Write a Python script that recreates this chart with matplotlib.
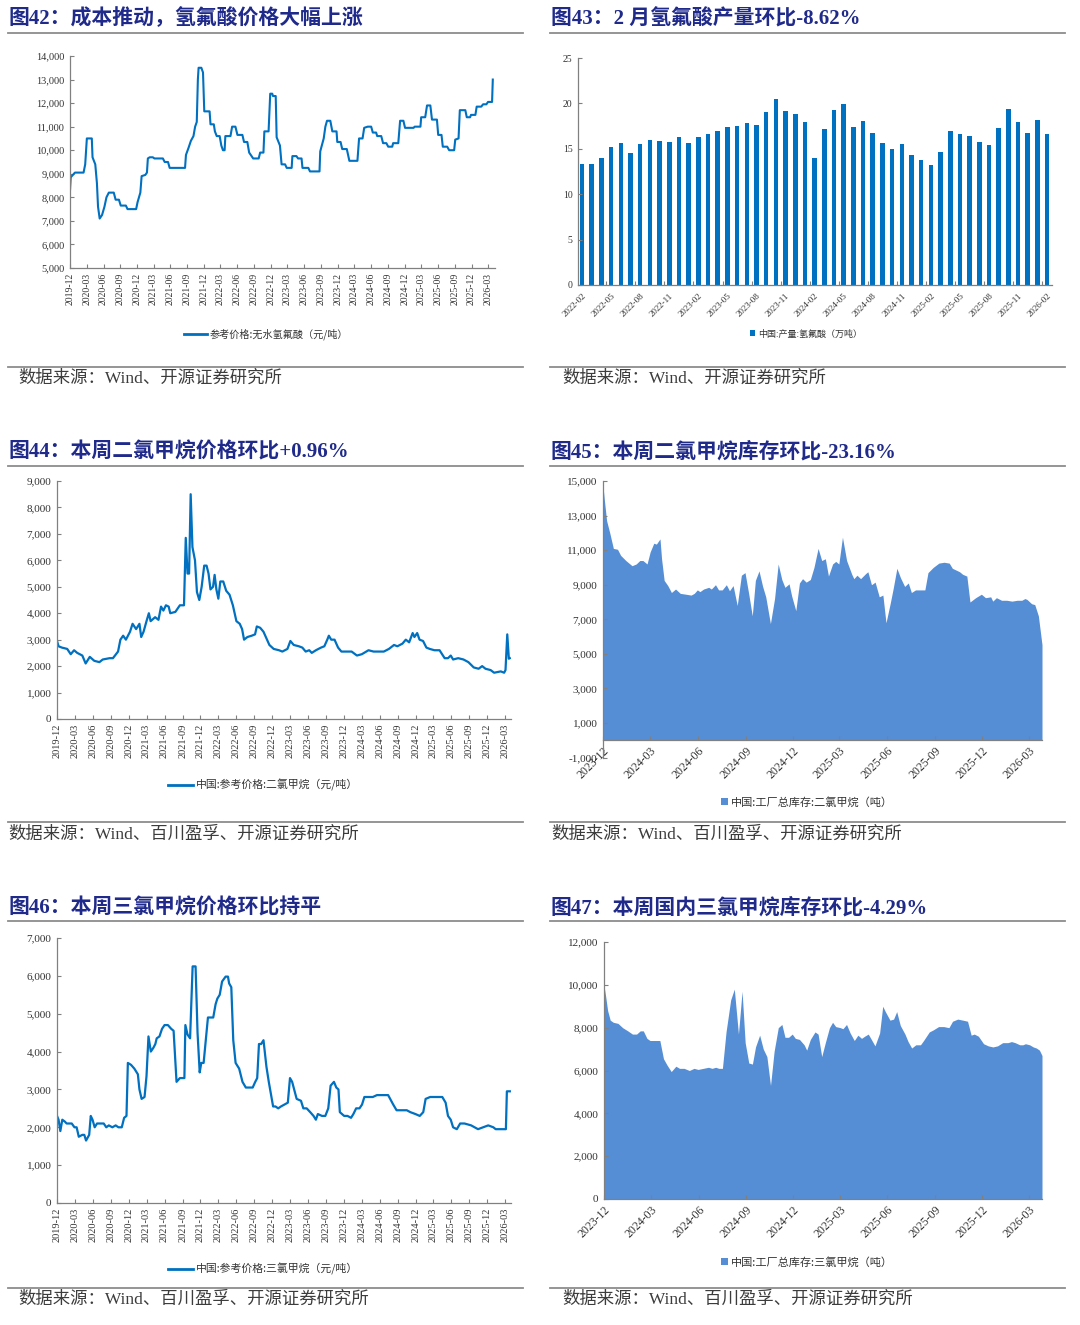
import matplotlib
matplotlib.use('Agg')
import matplotlib.pyplot as plt
import pandas as pd
import numpy as np
from matplotlib.lines import Line2D
from matplotlib.patches import Patch
from matplotlib.ticker import FuncFormatter

# ---------------- DATA ----------------
# 图42 参考价格:无水氢氟酸（元/吨）
p42_dates = ["2019-12-01","2019-12-05","2019-12-28","2020-02-13","2020-02-22","2020-03-02","2020-03-29","2020-04-02","2020-04-17","2020-04-26",
 "2020-05-02","2020-05-11","2020-05-24","2020-06-06","2020-06-17","2020-06-30","2020-07-27","2020-08-06","2020-08-24","2020-09-03",
 "2020-10-01","2020-10-10","2020-11-26","2020-12-04","2020-12-19","2020-12-26","2021-01-15","2021-01-24","2021-01-29","2021-02-08",
 "2021-02-25","2021-03-06","2021-04-21","2021-05-01","2021-05-19","2021-05-28","2021-08-20","2021-08-25","2021-09-08","2021-09-21",
 "2021-10-05","2021-10-14","2021-10-23","2021-10-29","2021-11-02","2021-11-17","2021-11-26","2021-12-03","2022-01-01","2022-01-06",
 "2022-01-24","2022-01-30","2022-02-09","2022-02-25","2022-03-06","2022-03-15","2022-03-24","2022-03-28","2022-04-25","2022-05-04",
 "2022-05-22","2022-06-02","2022-06-29","2022-07-08","2022-07-26","2022-08-05","2022-08-27","2022-09-26","2022-10-04","2022-10-22",
 "2022-10-27","2022-11-19","2022-11-28","2022-12-09","2022-12-13","2022-12-28","2023-01-02","2023-01-20","2023-01-29","2023-02-17",
 "2023-02-26","2023-03-25","2023-03-29","2023-04-20","2023-04-29","2023-05-18","2023-05-23","2023-06-24","2023-07-03","2023-08-24",
 "2023-08-28","2023-09-16","2023-09-25","2023-10-04","2023-10-22","2023-11-02","2023-11-25","2023-11-29","2023-12-17","2023-12-26",
 "2024-01-20","2024-02-03","2024-03-18","2024-03-27","2024-04-15","2024-04-24","2024-05-13","2024-06-01","2024-06-10","2024-06-28",
 "2024-07-04","2024-07-26","2024-08-05","2024-08-23","2024-09-02","2024-09-24","2024-09-29","2024-10-27","2024-11-06","2024-11-24",
 "2024-12-03","2025-01-19","2025-01-24","2025-02-25","2025-03-01","2025-03-23","2025-04-02","2025-04-20","2025-04-29","2025-05-26",
 "2025-06-02","2025-06-20","2025-06-27","2025-07-21","2025-08-01","2025-08-28","2025-09-03","2025-09-21","2025-09-28","2025-10-28",
 "2025-11-05","2025-11-23","2025-11-28","2025-12-22","2025-12-29","2026-01-23","2026-02-02","2026-02-20","2026-03-01","2026-03-23",
 "2026-03-27"]
p42_vals = [8300,8850,9050,9050,9400,10500,10500,9700,9400,8600,
 7600,7100,7250,7600,8000,8200,8200,7900,7900,7650,
 7650,7500,7500,7800,8200,8900,8950,9050,9650,9700,
 9700,9650,9650,9500,9500,9250,9250,9800,10100,10400,
 10600,11000,11200,13000,13500,13500,13300,11650,11650,11100,
 11100,10800,10600,10600,10200,10000,10000,10600,10600,11000,
 11000,10650,10650,10350,10350,9900,9650,9650,9900,9900,
 10800,10800,12400,12400,12300,12300,10550,10200,9400,9400,
 9250,9250,9750,9750,9650,9650,9250,9250,9100,9100,
 9950,10500,11000,11250,11250,10800,10800,10350,10350,10050,
 10050,9550,9550,10500,10500,10950,11000,11000,10750,10750,
 10600,10600,10300,10300,10150,10150,10300,10300,11250,11250,
 10950,10950,11000,11000,11400,11400,11900,11900,11300,11300,
 10650,10650,10150,10150,10000,10000,10450,10500,11700,11700,
 11400,11400,11500,11500,11850,11850,11950,11950,12050,12050,
 13000]

# 图43 中国:产量:氢氟酸（万吨）
p43_months = pd.date_range("2022-02-01", "2026-02-01", freq="MS").strftime("%Y-%m").tolist()
p43_vals = [13.35,13.35,14.0,15.2,15.6,14.55,15.5,16.0,15.85,15.8,
 16.3,15.6,16.3,16.65,16.95,17.4,17.5,17.8,17.6,19.1,
 20.5,19.2,18.8,18.0,14.0,17.2,19.3,19.9,17.35,18.05,
 16.7,15.6,15.0,15.5,14.3,13.8,13.25,14.6,17.0,16.6,
 16.45,15.7,15.45,17.25,19.35,17.95,16.75,18.15,16.6]

# 图44 中国:参考价格:二氯甲烷（元/吨）
p44_dates = ["2019-12-01","2019-12-09","2019-12-26","2020-01-22","2020-02-09","2020-02-26","2020-03-13","2020-04-08","2020-04-25","2020-05-16",
 "2020-06-08","2020-07-04","2020-07-21","2020-08-25","2020-09-11","2020-10-07","2020-10-19","2020-11-02","2020-11-16","2020-12-07",
 "2020-12-20","2021-01-07","2021-01-24","2021-02-02","2021-02-14","2021-03-01","2021-03-13","2021-03-22","2021-04-14","2021-05-01",
 "2021-05-14","2021-05-26","2021-06-08","2021-06-22","2021-06-30","2021-07-26","2021-08-18","2021-09-08","2021-09-17","2021-09-26",
 "2021-10-04","2021-10-12","2021-10-21","2021-11-03","2021-11-13","2021-11-25","2021-12-07","2021-12-20","2022-01-01","2022-01-11",
 "2022-01-21","2022-02-03","2022-02-11","2022-02-20","2022-03-02","2022-03-12","2022-03-27","2022-04-11","2022-04-28","2022-05-15",
 "2022-06-02","2022-06-19","2022-07-01","2022-07-11","2022-07-28","2022-08-19","2022-09-05","2022-09-14","2022-10-01","2022-10-18",
 "2022-11-05","2022-11-17","2022-12-09","2023-01-05","2023-01-22","2023-02-17","2023-03-04","2023-03-21","2023-04-16","2023-05-04",
 "2023-05-21","2023-06-08","2023-06-21","2023-07-12","2023-08-07","2023-08-24","2023-09-08","2023-09-16","2023-09-28","2023-10-15",
 "2023-11-02","2023-11-19","2023-12-15","2024-01-10","2024-02-06","2024-03-02","2024-04-05","2024-05-01","2024-06-22","2024-07-18",
 "2024-08-13","2024-08-30","2024-09-25","2024-10-12","2024-10-29","2024-11-16","2024-11-25","2024-12-09","2024-12-21","2025-01-08",
 "2025-01-25","2025-02-11","2025-03-07","2025-04-02","2025-04-28","2025-05-15","2025-05-29","2025-06-10","2025-07-06","2025-08-02",
 "2025-08-27","2025-09-23","2025-10-18","2025-11-05","2025-11-22","2025-12-18","2026-01-05","2026-02-08","2026-02-25","2026-03-04",
 "2026-03-13","2026-03-21","2026-03-26"]
p44_vals = [2950,2750,2700,2650,2450,2600,2500,2400,2100,2350,
 2200,2150,2250,2300,2300,2550,3000,3150,3000,3300,
 3600,3400,3600,3100,3300,3700,4000,3700,3850,3750,
 4250,4100,4300,4250,4000,4050,4300,4300,6850,5500,
 5500,8500,6500,6000,4800,4500,5000,5800,5800,5500,
 4900,5000,5450,4900,4550,5200,5200,4850,4700,4300,
 3700,3600,3400,3000,3100,3150,3200,3500,3450,3300,
 3000,2800,2650,2600,2550,2650,2950,2800,2750,2700,
 2550,2600,2500,2600,2700,2750,3000,3150,3000,3000,
 2700,2550,2550,2550,2400,2450,2600,2550,2550,2650,
 2800,2750,2850,3000,2900,3250,3100,3250,3000,2950,
 2700,2650,2600,2600,2300,2300,2400,2250,2300,2250,
 2150,1950,1900,2000,1900,1850,1750,1800,1750,1850,
 3200,2280,2300]

# 图45 中国:工厂总库存:二氯甲烷（吨）
p45_dates = ["2023-12-01","2023-12-04","2023-12-08","2023-12-14","2023-12-21","2023-12-29","2024-01-04","2024-01-14","2024-01-26","2024-02-03",
 "2024-02-10","2024-02-16","2024-02-24","2024-03-01","2024-03-08","2024-03-13","2024-03-20","2024-03-23","2024-03-28","2024-04-04",
 "2024-04-11","2024-04-19","2024-04-28","2024-05-09","2024-05-19","2024-05-25","2024-05-31","2024-06-05","2024-06-12","2024-06-22",
 "2024-06-27","2024-07-05","2024-07-11","2024-07-18","2024-07-26","2024-08-01","2024-08-08","2024-08-16","2024-08-24","2024-08-31",
 "2024-09-07","2024-09-14","2024-09-20","2024-09-27","2024-10-04","2024-10-10","2024-10-19","2024-10-27","2024-11-03","2024-11-10",
 "2024-11-16","2024-11-24","2024-11-29","2024-12-07","2024-12-14","2024-12-20","2024-12-27","2025-01-04","2025-01-11","2025-01-19",
 "2025-01-26","2025-02-02","2025-02-08","2025-02-16","2025-02-22","2025-02-28","2025-03-07","2025-03-15","2025-03-25","2025-03-29",
 "2025-04-04","2025-04-11","2025-04-21","2025-04-25","2025-05-02","2025-05-09","2025-05-17","2025-05-24","2025-05-30","2025-06-07",
 "2025-06-13","2025-06-20","2025-06-27","2025-07-05","2025-07-12","2025-07-18","2025-07-26","2025-08-13","2025-08-19","2025-08-29",
 "2025-09-09","2025-09-19","2025-09-29","2025-10-05","2025-10-19","2025-10-25","2025-11-02","2025-11-08","2025-11-19","2025-11-30",
 "2025-12-08","2025-12-18","2025-12-22","2025-12-29","2026-01-08","2026-01-18","2026-01-28","2026-02-07","2026-02-16","2026-02-22",
 "2026-02-26","2026-03-07","2026-03-13","2026-03-20","2026-03-27"]
p45_vals = [14700,13800,12700,12000,11100,11050,10700,10400,10100,10200,
 10400,10400,10200,10900,11400,11350,11650,10500,9250,8950,
 8550,8750,8500,8450,8400,8500,8700,8600,8750,8850,
 8750,9000,8700,8700,9000,8650,8950,7800,9550,9700,
 8500,7200,9250,9800,8900,8300,6750,8200,10200,9300,
 8850,9050,8350,7500,9100,9350,9150,9300,10000,11100,
 10400,10500,9500,10200,10350,10200,11750,10400,9600,9350,
 9550,9350,9650,9750,9000,9150,8300,8400,6800,7900,
 8800,9950,9400,8900,9100,8550,8700,8700,9700,10000,
 10250,10300,10250,9950,9750,9600,9500,8000,8250,8450,
 8250,8300,8050,8250,8100,8100,8050,8100,8100,8200,
 8150,7900,7850,7200,5530]

# 图46 中国:参考价格:三氯甲烷（元/吨）
p46_dates = ["2019-12-01","2019-12-09","2019-12-18","2019-12-28","2020-01-10","2020-01-19","2020-02-14","2020-02-28","2020-03-10","2020-03-21",
 "2020-04-08","2020-04-18","2020-04-27","2020-05-13","2020-05-21","2020-05-30","2020-06-10","2020-06-22","2020-07-26","2020-08-08",
 "2020-08-21","2020-09-08","2020-09-25","2020-10-09","2020-10-26","2020-11-07","2020-11-19","2020-11-26","2020-12-12","2020-12-29",
 "2021-01-16","2021-01-24","2021-02-04","2021-02-19","2021-03-01","2021-03-11","2021-03-23","2021-04-05","2021-04-15","2021-04-22",
 "2021-05-06","2021-05-19","2021-06-01","2021-06-18","2021-07-05","2021-07-17","2021-08-01","2021-08-18","2021-09-10","2021-09-15",
 "2021-09-26","2021-10-09","2021-10-22","2021-11-06","2021-11-16","2021-11-27","2021-12-05","2021-12-17","2021-12-26","2022-01-08",
 "2022-01-25","2022-02-04","2022-02-16","2022-02-25","2022-03-09","2022-03-21","2022-04-08","2022-04-20","2022-04-26","2022-05-07",
 "2022-05-17","2022-05-29","2022-06-16","2022-07-03","2022-07-20","2022-08-12","2022-08-24","2022-09-06","2022-09-16","2022-09-25",
 "2022-10-06","2022-10-18","2022-11-02","2022-11-14","2022-11-24","2022-12-06","2022-12-18","2023-01-01","2023-01-15","2023-02-02",
 "2023-02-19","2023-03-02","2023-03-13","2023-03-23","2023-04-05","2023-04-27","2023-05-09","2023-05-26","2023-06-13","2023-06-30",
 "2023-07-12","2023-07-22","2023-08-12","2023-08-29","2023-09-13","2023-09-25","2023-10-12","2023-10-24","2023-11-04","2023-11-11",
 "2023-12-03","2023-12-20","2024-01-07","2024-01-19","2024-02-02","2024-02-19","2024-03-03","2024-03-15","2024-04-10","2024-04-27",
 "2024-05-18","2024-07-14","2024-08-09","2024-08-26","2024-10-17","2024-11-04","2024-11-30","2024-12-22","2025-01-09","2025-01-21",
 "2025-02-13","2025-04-16","2025-05-03","2025-05-15","2025-05-29","2025-06-10","2025-06-29","2025-07-16","2025-08-07","2025-09-10",
 "2025-10-15","2025-11-10","2025-12-06","2026-01-01","2026-01-13","2026-02-13","2026-03-06","2026-03-11","2026-03-26"]
p46_vals = [2300,2200,1900,2200,2150,2100,2100,2000,2000,1750,
 1800,1800,1650,1800,2300,2200,2000,2100,2100,2000,
 2050,2000,2050,2000,2000,2250,2300,3700,3650,3550,
 3400,3000,2750,2800,3350,4400,4000,4100,4200,4350,
 4400,4600,4700,4700,4600,4550,3200,3300,3300,4700,
 4450,4350,6250,6250,4500,3450,3700,3700,4200,4900,
 4900,4900,5250,5400,5500,5850,5980,5980,5800,5700,
 4300,3700,3550,3200,3050,3050,3050,3200,3300,4200,
 4200,4300,3600,3200,2900,2550,2550,2500,2550,2600,
 2650,3300,3200,3000,2750,2700,2500,2500,2400,2300,
 2200,2350,2300,2300,2500,3100,3200,3050,3000,2400,
 2300,2300,2250,2350,2500,2500,2600,2800,2800,2800,
 2850,2850,2600,2450,2450,2400,2350,2300,2400,2750,
 2800,2800,2650,2300,2200,2000,1950,2100,2100,2050,
 1950,2000,2050,2000,1950,1950,1950,2950,2950]

# 图47 中国:工厂总库存:三氯甲烷（吨）
p47_dates = ["2023-12-01","2023-12-04","2023-12-08","2023-12-13","2023-12-19","2023-12-28","2024-01-06","2024-01-16","2024-01-25","2024-02-02",
 "2024-02-09","2024-02-15","2024-02-22","2024-02-28","2024-03-08","2024-03-18","2024-03-25","2024-04-01","2024-04-09","2024-04-18",
 "2024-04-25","2024-05-04","2024-05-14","2024-05-23","2024-05-31","2024-06-10","2024-06-20","2024-06-27","2024-07-04","2024-07-10",
 "2024-07-17","2024-07-24","2024-08-02","2024-08-09","2024-08-17","2024-08-24","2024-08-30","2024-09-06","2024-09-13","2024-09-19",
 "2024-09-27","2024-10-04","2024-10-11","2024-10-18","2024-10-25","2024-11-02","2024-11-09","2024-11-15","2024-11-22","2024-11-29",
 "2024-12-05","2024-12-13","2024-12-22","2024-12-27","2025-01-03","2025-01-12","2025-01-18","2025-01-25","2025-02-01","2025-02-09",
 "2025-02-15","2025-02-21","2025-03-02","2025-03-07","2025-03-14","2025-03-21","2025-03-29","2025-04-05","2025-04-12","2025-04-18",
 "2025-04-25","2025-05-01","2025-05-08","2025-05-17","2025-05-23","2025-05-28","2025-06-06","2025-06-13","2025-06-19","2025-06-26",
 "2025-07-05","2025-07-11","2025-07-18","2025-07-26","2025-08-04","2025-08-10","2025-08-21","2025-08-29","2025-09-08","2025-09-18",
 "2025-09-28","2025-10-05","2025-10-15","2025-10-25","2025-11-03","2025-11-10","2025-11-16","2025-11-24","2025-12-04","2025-12-13",
 "2025-12-22","2025-12-31","2026-01-10","2026-01-20","2026-01-27","2026-02-03","2026-02-12","2026-02-18","2026-02-23","2026-03-03",
 "2026-03-10","2026-03-16","2026-03-22","2026-03-27"]
p47_vals = [9950,9500,8800,8350,8250,8200,8000,7850,7700,7700,
 7850,7850,7500,7400,7400,7400,6550,6250,5950,6200,
 6100,6100,6000,6100,6050,6100,6150,6100,6150,6100,
 6100,7800,9300,9800,7700,9700,7300,6350,6300,7100,
 7650,7000,6650,5300,6900,8000,8150,7550,7550,7700,
 7500,7450,7200,6950,7450,7800,7700,6650,7300,8000,
 8250,8050,8000,7950,8150,7750,7400,7650,7500,7600,
 7700,7450,7150,7750,9000,8750,8350,8400,8750,8100,
 7700,7350,7050,7200,7200,7400,7800,7900,8050,8050,
 8000,8300,8400,8350,8300,7650,7700,7600,7250,7150,
 7100,7150,7300,7300,7350,7300,7200,7200,7250,7200,
 7100,7050,6950,6700]

titles = ["图42：成本推动，氢氟酸价格大幅上涨", "图43：2 月氢氟酸产量环比-8.62%",
          "图44：本周二氯甲烷价格环比+0.96%", "图45：本周二氯甲烷库存环比-23.16%",
          "图46：本周三氯甲烷价格环比持平", "图47：本周国内三氯甲烷库存环比-4.29%"]
legends = ["参考价格:无水氢氟酸（元/吨）", "中国:产量:氢氟酸（万吨）",
           "中国:参考价格:二氯甲烷（元/吨）", "中国:工厂总库存:二氯甲烷（吨）",
           "中国:参考价格:三氯甲烷（元/吨）", "中国:工厂总库存:三氯甲烷（吨）"]
sources = ["数据来源：Wind、开源证券研究所", "数据来源：Wind、开源证券研究所",
           "数据来源：Wind、百川盈孚、开源证券研究所", "数据来源：Wind、百川盈孚、开源证券研究所",
           "数据来源：Wind、百川盈孚、开源证券研究所", "数据来源：Wind、百川盈孚、开源证券研究所"]

# ---------------- STYLE ----------------
W, H = 1080, 1325
fig = plt.figure(figsize=(10.8, 13.25), dpi=100)
SERIF = ['Liberation Serif', 'Noto Sans CJK SC']
CJK = ['Noto Sans CJK SC', 'DejaVu Sans']
TITLE_C = '#1f2a8a'
LINE_C = '#0070C0'
AREA_C = '#558ED5'
RULE_C = '#8c8c8c'
TXT_C = '#333333'
SPINE_C = '#808080'

def rect(l, t, r, b):
    return [l / W, 1 - b / H, (r - l) / W, (b - t) / H]

def fx(x): return x / W
def fy(y): return 1 - y / H

def hline(x0, x1, y, lw=1.3):
    fig.add_artist(Line2D([fx(x0), fx(x1)], [fy(y), fy(y)], color=RULE_C, lw=lw,
                          transform=fig.transFigure))

def style(ax, fs_y):
    for s in ['top', 'right']:
        ax.spines[s].set_visible(False)
    for s in ['left', 'bottom']:
        ax.spines[s].set_color(SPINE_C)
        ax.spines[s].set_linewidth(0.9)
    ax.tick_params(axis='both', which='both', direction='in', length=3, width=0.8,
                   color=SPINE_C, labelcolor=TXT_C)
    ax.yaxis.set_major_formatter(FuncFormatter(lambda v, p: f'{int(round(v)):,}'))
    for lab in ax.get_yticklabels():
        lab.set_fontfamily(SERIF)
        lab.set_fontsize(fs_y)
    ax.tick_params(axis='y', labelsize=fs_y, pad=4)

def date_xticks(ax, start, end, fs, rot):
    ticks = pd.date_range(start, end, freq='3MS')
    ax.set_xticks(ticks)
    ax.set_xticklabels([t.strftime('%Y-%m') for t in ticks], fontsize=fs,
                       family=SERIF, rotation=rot, color=TXT_C)
    if rot == 45:
        for lab in ax.get_xticklabels():
            lab.set_ha('right'); lab.set_va('top'); lab.set_rotation_mode('anchor')

def decorate(col, ytitle, yrule_top, yrule_bot, ysrc, title, source, src_x):
    x0 = 8 if col == 0 else 550
    x1 = 523 if col == 0 else 1065
    fig.text(fx(x0 + 1), fy(ytitle), title, ha='left', va='center', fontsize=15,
             fontweight='bold', color=TITLE_C, family=SERIF)
    hline(x0, x1, yrule_top)
    hline(x0, x1, yrule_bot)
    fig.text(fx(src_x), fy(ysrc), source, ha='left', va='center', fontsize=12.5,
             color='#3c3c3c', family=SERIF)

def line_legend(ax, label, cx, cy, fs):
    h = Line2D([], [], color=LINE_C, lw=2)
    fig.legend([h], [label], loc='center', bbox_to_anchor=(fx(cx), fy(cy)),
               frameon=False, handlelength=2.3, handletextpad=0.3,
               prop={'family': CJK, 'size': fs}, labelcolor=TXT_C)

def patch_legend(ax, label, cx, cy, fs, color):
    h = Patch(facecolor=color, edgecolor='none')
    fig.legend([h], [label], loc='center', bbox_to_anchor=(fx(cx), fy(cy)),
               frameon=False, handlelength=0.6, handleheight=0.6, handletextpad=0.3,
               prop={'family': CJK, 'size': fs}, labelcolor=TXT_C)

# ---------------- 图42 ----------------
ax = fig.add_axes(rect(70, 56, 495, 268))
ax.plot(pd.to_datetime(p42_dates), p42_vals, color=LINE_C, lw=1.5)
ax.set_ylim(5000, 14000)
ax.set_yticks(np.arange(5000, 14001, 1000))
ax.set_xlim(pd.Timestamp('2019-12-01'), pd.Timestamp('2026-04-08'))
style(ax, 7.5)
date_xticks(ax, '2019-12-01', '2026-03-01', 7, 90)
line_legend(ax, legends[0], 266, 334, 7.3)
decorate(0, 19, 33, 367, 379, titles[0], sources[0], 18)

# ---------------- 图43 ----------------
ax = fig.add_axes(rect(578, 58, 1052, 285))
xs = np.arange(len(p43_vals))
ax.bar(xs, p43_vals, width=0.47, color=LINE_C)
ax.set_ylim(0, 25)
ax.set_yticks(np.arange(0, 26, 5))
ax.set_xlim(-0.42, len(p43_vals) - 0.5)
style(ax, 7)
ax.set_xticks(xs[::3])
ax.set_xticklabels(p43_months[::3], fontsize=6.5, family=SERIF, color=TXT_C)
for lab in ax.get_xticklabels():
    lab.set_rotation(45); lab.set_ha('right'); lab.set_va('top'); lab.set_rotation_mode('anchor')
ax.tick_params(axis='x', which='major', length=0, pad=5)
ax.set_xticks(xs[::3][1:] - 0.5, minor=True)
ax.tick_params(axis='x', which='minor', length=3, direction='in', color=SPINE_C)
patch_legend(ax, legends[1], 806, 334, 6.5, LINE_C)
decorate(1, 19, 33, 367, 379, titles[1], sources[1], 562)

# ---------------- 图44 ----------------
ax = fig.add_axes(rect(57, 481, 511, 719))
ax.plot(pd.to_datetime(p44_dates), p44_vals, color=LINE_C, lw=1.6)
ax.set_ylim(0, 9000)
ax.set_yticks(np.arange(0, 9001, 1000))
ax.set_xlim(pd.Timestamp('2019-12-01'), pd.Timestamp('2026-04-01'))
style(ax, 8)
date_xticks(ax, '2019-12-01', '2026-03-01', 7.5, 90)
line_legend(ax, legends[2], 263, 785, 7.8)
decorate(0, 452, 466, 822, 835, titles[2], sources[2], 8)

# ---------------- 图45 ----------------
ax = fig.add_axes(rect(603, 481, 1042, 757.6))
d45 = pd.to_datetime(p45_dates)
ax.fill_between(d45, p45_vals, 0, color=AREA_C, lw=0)
ax.set_ylim(-1000, 15000)
ax.set_yticks(np.arange(-1000, 15001, 2000))
ax.set_xlim(d45[0], d45[-1])
ax.spines['bottom'].set_position(('data', 0))
style(ax, 8)
date_xticks(ax, '2023-12-01', '2026-03-01', 8.5, 45)
patch_legend(ax, legends[3], 807, 802, 8, AREA_C)
decorate(1, 452, 466, 822, 835, titles[3], sources[3], 551)

# ---------------- 图46 ----------------
ax = fig.add_axes(rect(57, 938, 511, 1203))
ax.plot(pd.to_datetime(p46_dates), p46_vals, color=LINE_C, lw=1.6)
ax.set_ylim(0, 7000)
ax.set_yticks(np.arange(0, 7001, 1000))
ax.set_xlim(pd.Timestamp('2019-12-01'), pd.Timestamp('2026-04-01'))
style(ax, 8)
date_xticks(ax, '2019-12-01', '2026-03-01', 7.5, 90)
line_legend(ax, legends[4], 263, 1269, 7.8)
decorate(0, 908, 921, 1288, 1300, titles[4], sources[4], 18)

# ---------------- 图47 ----------------
ax = fig.add_axes(rect(604, 942, 1042, 1199))
d47 = pd.to_datetime(p47_dates)
ax.fill_between(d47, p47_vals, 0, color=AREA_C, lw=0)
ax.set_ylim(0, 12000)
ax.set_yticks(np.arange(0, 12001, 2000))
ax.set_xlim(d47[0], d47[-1])
style(ax, 8)
date_xticks(ax, '2023-12-01', '2026-03-01', 8.5, 45)
patch_legend(ax, legends[5], 807, 1262, 8, AREA_C)
decorate(1, 908, 921, 1288, 1300, titles[5], sources[5], 562)

fig.savefig('out.png', dpi=100, facecolor='white')
